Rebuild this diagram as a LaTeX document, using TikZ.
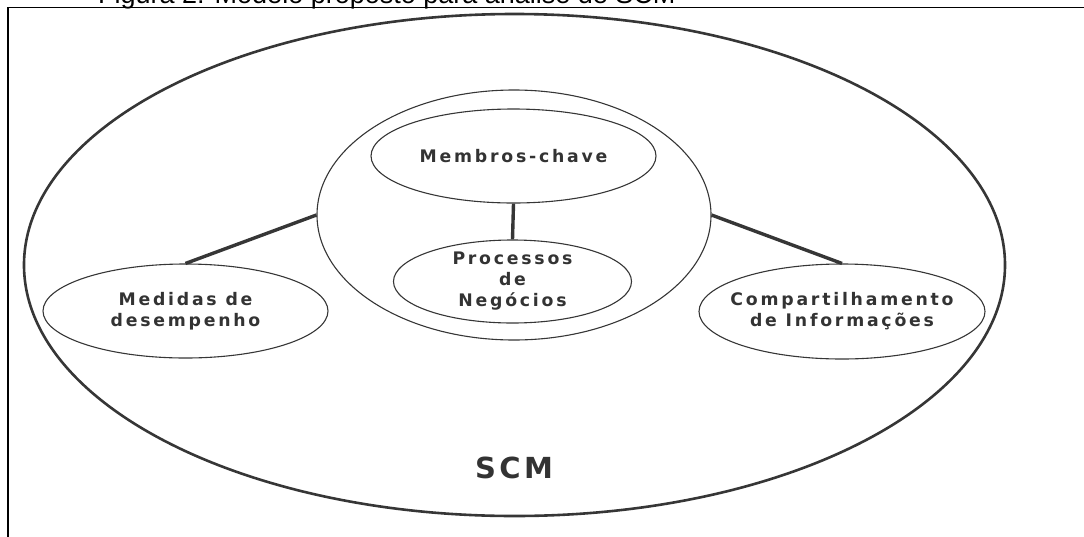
\documentclass[tikz,border=0pt]{standalone}
\usepackage{fontspec}
\usetikzlibrary{shapes.geometric}

% spaced bold sans for the labels, plain sans for the caption
\newfontfamily\diagfont{DejaVu Sans}[LetterSpace=16]
\newfontfamily\scmfont{DejaVu Sans}[LetterSpace=12]
\newfontfamily\capfont{Liberation Sans}

\definecolor{linec}{HTML}{363636}
\definecolor{txtc}{HTML}{333333}

\begin{document}
\begin{tikzpicture}[x=1pt,y=-1pt,
  ell/.style={draw=linec, ellipse, inner sep=0pt, line width=1.1pt},
  lbl/.style={text=txtc, inner sep=0pt, align=center,
    font=\diagfont\bfseries\fontsize{17.3}{21}\selectfont},
  link/.style={draw=linec, line width=3.4pt}]
  \useasboundingbox (0,0) rectangle (1084,536);

  % caption above the frame (only its lower part lies on the page)
  \node[anchor=base west, inner sep=0pt, font=\capfont\fontsize{27}{30}\selectfont]
    (cap) at (98,3.5) {Figura 2: Modelo proposto para análise de SCM};

  % frame
  \draw[black, line width=1.4pt] (8,700) -- (8,7.5) -- (1300,7.5);

  % outer SCM ellipse
  \node[ell, line width=2.6pt, minimum width=981pt, minimum height=502pt]
    (scm) at (514.5,265) {};
  \node[text=txtc, inner sep=0pt, font=\scmfont\bfseries\fontsize{29}{32}\selectfont]
    (scmlbl) at (514,467.5) {SCM};

  % central ellipse with its two inner ellipses
  \node[ell, minimum width=394pt, minimum height=250pt] (central) at (514,215) {};
  \node[ell, minimum width=285pt, minimum height=94pt] (memb) at (513.5,156) {};
  \node[lbl] (membl) at (memb.center) {Membros-chave};
  \node[ell, minimum width=238pt, minimum height=83pt] (proc) at (512.5,281.5) {};
  \node[lbl] (procl) at (proc.center) {Processos\\de\\Negócios};

  % side ellipses
  \node[ell, minimum width=285pt, minimum height=94pt] (med) at (185.5,311) {};
  \node[lbl] (medl) at (med.center) {Medidas de\\desempenho};
  \node[ell, minimum width=286pt, minimum height=95pt] (comp) at (842,311.5) {};
  \node[lbl] (compl) at (comp.center) {Compartilhamento\\de Informações};

  % connectors
  \draw[link] (memb.south) -- (proc.north);
  \draw[link] (med.north) -- (central.west);
  \draw[link] (comp.north) -- (central.east);
\end{tikzpicture}
\end{document}
